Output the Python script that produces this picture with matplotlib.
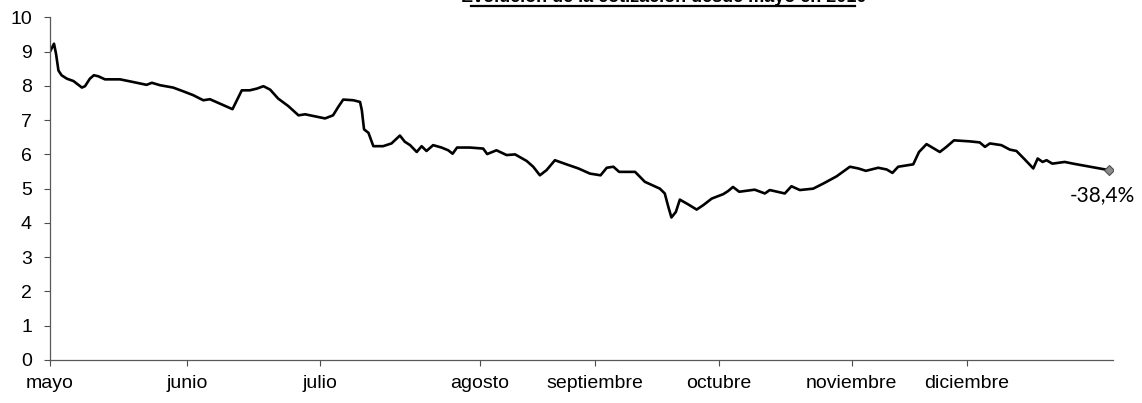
import matplotlib.pyplot as plt
import numpy as np

# days counted from the first session (3 May 2010)
days = [0, 0.9, 1.35, 1.9, 2.6, 3.8, 5.3, 6.2, 7.2, 7.9, 9.0, 9.9, 10.9, 12.4, 15.8,
        18.1, 21.8, 23.0, 24.8, 27.8, 30.1, 32.3, 34.6, 36.1, 38.4, 41.2,
        43.3, 45.1, 46.7, 48.2, 49.7, 51.5, 53.8, 56.1, 57.6, 59.8, 62.1, 63.9,
        65.1, 66.2, 68.5, 70.0, 70.4, 70.9, 71.9, 73.0, 75.2, 77.1, 79.0,
        80.1, 81.3, 82.8, 83.9, 85.0, 86.5, 88.4, 89.9, 90.9, 91.9, 94.8, 97.8,
        98.7, 100.8, 103.1, 105.0, 107.6, 109.1, 110.6, 112.1, 114.0, 116.6,
        119.3, 121.9, 124.3, 125.7, 127.2, 128.5, 132.1, 134.3, 137.7, 138.8,
        139.6, 140.3, 141.3, 142.2, 144.1, 146.0, 147.5, 149.4, 152.0, 153.1,
        154.2, 155.6, 159.1, 161.4, 162.5, 165.9, 167.4, 169.3, 172.3, 174.6,
        177.6, 180.6, 182.5, 184.2, 187.0, 188.9, 190.2, 191.5, 194.9, 196.2,
        197.9, 200.9, 202.4, 204.1, 207.7, 209.9, 211.1, 212.2, 214.8, 216.7,
        218.2, 220.1, 222.0, 223.0, 224.1, 225.0, 226.3, 229.1, 231.0, 234.8,
        239.1]
price = [9.00, 9.23, 8.94, 8.45, 8.31, 8.21, 8.14, 8.05, 7.95, 7.99, 8.21, 8.31, 8.28, 8.19, 8.19,
         8.13, 8.03, 8.09, 8.02, 7.95, 7.84, 7.73, 7.58, 7.61, 7.48, 7.32,
         7.87, 7.87, 7.92, 7.99, 7.89, 7.63, 7.41, 7.14, 7.17, 7.11, 7.05, 7.14,
         7.39, 7.60, 7.58, 7.53, 7.29, 6.73, 6.63, 6.24, 6.24, 6.32, 6.55,
         6.37, 6.27, 6.07, 6.24, 6.10, 6.27, 6.20, 6.12, 6.02, 6.20, 6.20, 6.17,
         6.01, 6.12, 5.98, 6.00, 5.81, 5.64, 5.39, 5.54, 5.83, 5.71,
         5.59, 5.44, 5.39, 5.61, 5.64, 5.49, 5.49, 5.20, 5.00, 4.86,
         4.47, 4.16, 4.32, 4.68, 4.54, 4.39, 4.52, 4.71, 4.84, 4.93,
         5.05, 4.91, 4.97, 4.86, 4.96, 4.86, 5.07, 4.96, 5.00, 5.15,
         5.36, 5.64, 5.59, 5.52, 5.61, 5.56, 5.46, 5.64, 5.71, 6.07,
         6.30, 6.07, 6.22, 6.41, 6.38, 6.35, 6.22, 6.32, 6.27, 6.14,
         6.10, 5.85, 5.59, 5.88, 5.78, 5.83, 5.73, 5.78, 5.73, 5.64,
         5.54]

month_pos = [0, 31, 61, 97, 123, 151, 181, 207]
month_labels = ['mayo', 'junio', 'julio', 'agosto', 'septiembre', 'octubre',
                'noviembre', 'diciembre']
change_label = '-38,4%'
title = 'Evolución de la cotización desde mayo en 2010'

plt.rcParams['font.family'] = ['Liberation Sans', 'DejaVu Sans']

fig = plt.figure(figsize=(11.42, 4.03), dpi=100)
ax = fig.add_axes([0.0438, 0.1067, 0.9308, 0.8503])

ax.plot(days, price, color='black', lw=1.9, solid_joinstyle='round')
ax.plot(days[-1], price[-1], marker='D', ms=5, color='0.55', mec='0.3', mew=0.8)
ax.annotate(change_label, (days[-1], price[-1]), xytext=(-5, -18),
            textcoords='offset points', ha='center', va='center',
            fontsize=15, family=['Lato', 'DejaVu Sans'])

ax.set_xlim(0, 240)
ax.set_ylim(0, 10)
ax.set_yticks(np.arange(0, 11, 1))
ax.set_xticks(month_pos)
ax.set_xticklabels(month_labels)
ax.tick_params(axis='both', labelsize=14, direction='out', length=4, width=0.8, color='0.3')
ax.tick_params(axis='y', pad=9)
ax.tick_params(axis='x', pad=7)

for side in ['top', 'right']:
    ax.spines[side].set_visible(False)
for side in ['left', 'bottom']:
    ax.spines[side].set_color('0.35')
    ax.spines[side].set_linewidth(0.9)

# title sits mostly above the cropped page
fig.text(0.581, 0.995, title, ha='center', va='baseline', fontsize=13, fontweight='bold')
fig.add_artist(plt.Line2D([0.412, 0.749], [0.986, 0.986], color='black', lw=1.6))

fig.savefig('out.png', dpi=100)
